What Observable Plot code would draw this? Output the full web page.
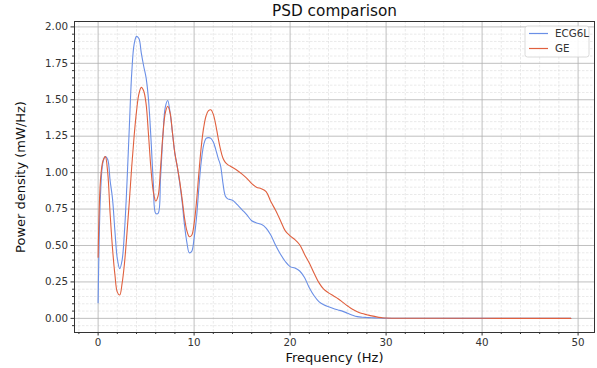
<!DOCTYPE html>
<html><head><meta charset="utf-8">
<script src="https://cdn.jsdelivr.net/npm/d3@7"></script>
<script src="https://cdn.jsdelivr.net/npm/@observablehq/plot@0.6"></script>
<style>body{margin:0;background:#fff} svg{display:block}</style>
</head><body><div id="chart"></div>
<script>
const freq = [0,0.25,0.5,0.75,1,1.25,1.5,1.75,2,2.25,2.5,2.75,3,3.25,3.5,3.75,4,4.25,4.5,4.75,5,5.25,5.5,5.75,6,6.25,6.5,6.75,7,7.25,7.5,7.75,8,8.25,8.5,8.75,9,9.25,9.5,9.75,10,10.25,10.5,10.75,11,11.25,11.5,11.75,12,12.25,12.5,12.75,13,13.25,13.5,13.75,14,14.5,15,15.5,16,16.5,17,17.5,18,18.5,19,19.5,20,20.5,21,21.5,22,22.5,23,23.5,24,24.5,25,25.5,26,26.5,27,27.5,28,28.5,29,29.5,30,35,40,45,49.25];
const ecg6l = [0.107,0.85,1.07,1.11,1.09,0.945,0.82,0.60,0.41,0.341,0.40,0.60,0.92,1.31,1.68,1.88,1.935,1.92,1.82,1.73,1.65,1.50,1.24,0.93,0.72,0.72,0.96,1.25,1.45,1.495,1.41,1.27,1.13,1.04,0.93,0.80,0.64,0.52,0.45,0.46,0.55,0.69,0.90,1.08,1.19,1.235,1.24,1.235,1.21,1.16,1.10,1.05,0.93,0.84,0.82,0.815,0.81,0.78,0.745,0.71,0.67,0.655,0.645,0.62,0.57,0.50,0.44,0.39,0.355,0.345,0.325,0.28,0.21,0.155,0.115,0.093,0.08,0.068,0.058,0.048,0.035,0.022,0.012,0.008,0.006,0.004,0.003,0.002,0.001,0.0003,0.0002,0.0001,0.0001];
const ge = [0.42,0.95,1.08,1.11,1.00,0.72,0.48,0.30,0.18,0.16,0.24,0.38,0.58,0.80,1.04,1.25,1.42,1.54,1.585,1.56,1.47,1.26,1.03,0.87,0.805,0.84,1.03,1.26,1.41,1.455,1.41,1.27,1.13,1.04,0.94,0.82,0.69,0.60,0.56,0.57,0.65,0.80,1.00,1.18,1.31,1.39,1.425,1.431,1.40,1.33,1.24,1.16,1.10,1.07,1.055,1.045,1.035,1.015,0.99,0.96,0.925,0.90,0.89,0.87,0.80,0.74,0.67,0.60,0.566,0.54,0.505,0.44,0.38,0.31,0.245,0.20,0.175,0.155,0.135,0.11,0.085,0.062,0.045,0.033,0.025,0.017,0.010,0.005,0.002,0.0005,0.0003,0.0002,0.0001];
const seriesNames = ["ECG6L", "GE"];
const seriesColors = ["#6a8fe6", "#e0603e"];
const xTicks = [0, 10, 20, 30, 40, 50];
const yTicks = [0, 0.25, 0.5, 0.75, 1, 1.25, 1.5, 1.75, 2];
const xMinor = d3.range(-1, 26).map(i => i * 2).filter(d => d % 10 !== 0);
const yMinor = d3.range(-1, 41).filter(i => i % 5 !== 0).map(i => i * 0.05);
const titleText = "PSD comparison";
const xLabel = "Frequency (Hz)";
const yLabel = "Power density (mW/Hz)";

const rows = [
  ...freq.map((f, i) => ({f, v: ecg6l[i], s: seriesNames[0]})),
  ...freq.map((f, i) => ({f, v: ge[i], s: seriesNames[1]}))
];

const ink = "#333";
const plot = Plot.plot({
  width: 597, height: 368,
  marginLeft: 74, marginRight: 3, marginTop: 21, marginBottom: 36,
  x: {domain: [-2.46, 51.71]},
  y: {domain: [-0.097, 2.037]},
  color: {domain: seriesNames, range: seriesColors},
  style: {fontFamily: "DejaVu Sans", fontSize: "10.3px", color: ink, background: "white"},
  marks: [
    Plot.ruleX(xMinor, {stroke: "#dcdcdc", strokeWidth: 0.6, strokeDasharray: "2.5,1.5"}),
    Plot.ruleY(yMinor, {stroke: "#dcdcdc", strokeWidth: 0.6, strokeDasharray: "2.5,1.5"}),
    Plot.ruleX(xTicks, {stroke: "#b0b0b0", strokeWidth: 0.8}),
    Plot.ruleY(yTicks, {stroke: "#b0b0b0", strokeWidth: 0.8}),
    Plot.line(rows, {x: "f", y: "v", z: "s", stroke: "s", curve: "catmull-rom", strokeWidth: 1.1}),
    Plot.frame({stroke: ink, strokeWidth: 1}),
    Plot.axisX(xTicks, {tickSize: 3.5, tickPadding: 3, tickFormat: d => String(d), label: null, stroke: ink}),
    Plot.axisX(xMinor, {tickSize: 2, tickFormat: () => "", label: null, stroke: ink}),
    Plot.axisY(yTicks, {tickSize: 3.5, tickPadding: 3, tickFormat: d3.format(".2f"), label: null, stroke: ink}),
    Plot.axisY(yMinor, {tickSize: 2, tickFormat: () => "", label: null, stroke: ink}),
    Plot.text([xLabel], {frameAnchor: "bottom", dy: 25, fontSize: 13, textAnchor: "middle", lineAnchor: "middle", fill: "#111"}),
    Plot.text([yLabel], {frameAnchor: "left", dx: -54, rotate: -90, fontSize: 13, textAnchor: "middle", lineAnchor: "middle", fill: "#111"}),
    Plot.text([titleText], {frameAnchor: "top", dy: -10, fontSize: 15.3, textAnchor: "middle", lineAnchor: "middle", fill: "#111"})
  ]
});

// legend
const svg = d3.select(plot);
const color = plot.scale("color");
const lg = svg.append("g").attr("font-family", "DejaVu Sans").attr("font-size", "10.3px").attr("text-anchor", "start");
lg.append("rect").attr("x", 525).attr("y", 26).attr("width", 64).attr("height", 31).attr("rx", 2.5)
  .attr("fill", "white").attr("fill-opacity", 0.85).attr("stroke", "#d0d0d0").attr("stroke-width", 0.8);
seriesNames.forEach((name, i) => {
  const yy = 33.5 + i * 15;
  lg.append("line").attr("x1", 529).attr("x2", 548).attr("y1", yy).attr("y2", yy)
    .attr("stroke", color.apply(name)).attr("stroke-width", 1.2);
  lg.append("text").attr("x", 555).attr("y", yy).attr("dy", "0.35em").attr("text-anchor", "start").attr("fill", ink).text(name);
});

document.getElementById("chart").appendChild(plot);
</script>
</body></html>
